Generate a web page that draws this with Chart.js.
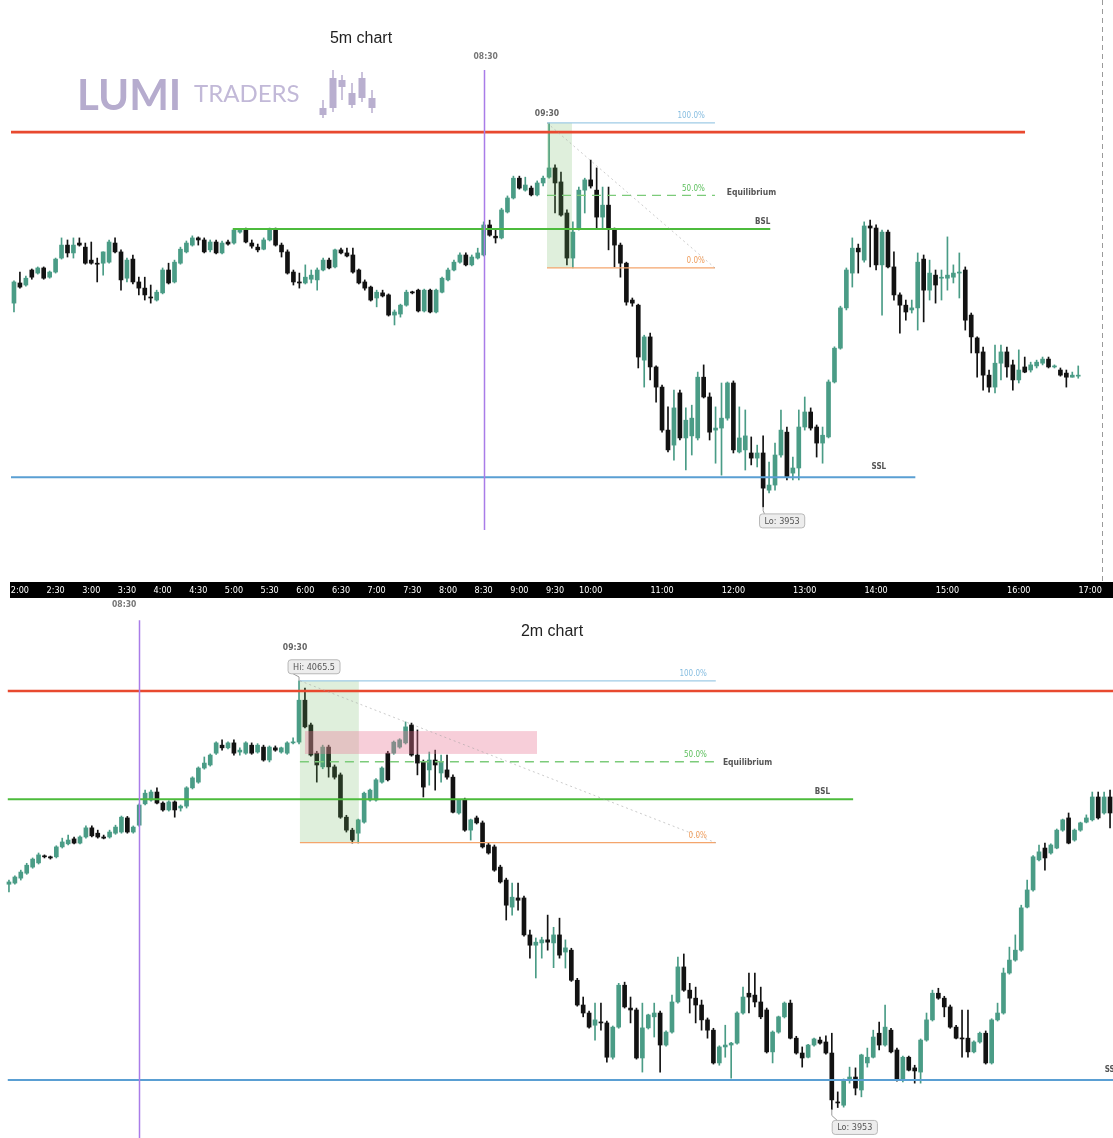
<!DOCTYPE html>
<html><head><meta charset="utf-8">
<script src="https://cdn.jsdelivr.net/npm/chart.js@4.4.1/dist/chart.umd.min.js"></script>
<style>
html,body{margin:0;padding:0;background:#fff;overflow:hidden;width:1113px;height:1138px;position:relative}
#c5{position:absolute;left:0;top:0}
#c2{position:absolute;left:0;top:600px}
</style></head><body>
<canvas id="c5" width="1113" height="600"></canvas>
<canvas id="c2" width="1113" height="538"></canvas>
<script>
// ---------- 5m chart (first bar 1:55) ----------
const top5mOpen = [4012.7,4018.6,4018.0,4022.4,4021.5,4023.0,4020.3,4021.8,4025.9,4029.7,
4027.4,4030.3,4029.1,4025.3,4024.4,4024.4,4024.7,4030.3,4027.7,4020.0,
4025.6,4018.9,4017.1,4014.5,4013.6,4015.7,4022.4,4018.9,4024.4,4027.7,
4029.7,4031.8,4031.2,4028.3,4030.6,4027.4,4030.6,4030.3,4033.5,4034.4,
4030.3,4029.1,4028.5,4031.2,4034.1,4029.7,4027.7,4021.8,4018.9,4018.6,
4019.7,4019.5,4022.4,4025.3,4023.3,4028.3,4027.4,4026.8,4022.4,4018.9,
4017.4,4014.2,4015.7,4015.1,4009.2,4009.5,4012.1,4015.9,4016.5,4010.4,
4016.5,4010.1,4015.9,4019.5,4022.4,4024.7,4026.8,4023.9,4025.9,4026.8,
4035.6,4032.3,4031.8,4039.4,4043.5,4049.3,4045.8,4046.4,4044.4,4047.9,
4049.6,4052.3,4048.2,4039.1,4025.9,4034.7,4045.8,4048.8,4045.8,4037.9,
4041.4,4034.1,4029.7,4024.4,4013.6,4012.1,3996.0,4002.8,3994.0,3988.1,
3975.5,3971.1,3986.4,3973.2,3973.8,3973.2,3991.0,3985.2,3975.5,3976.1,
3979.0,3989.3,3969.1,3969.7,3968.8,3967.3,3968.8,3957.9,3959.4,3968.2,
3974.9,3962.9,3964.4,3976.4,3980.8,3976.4,3971.7,3973.5,3989.6,3999.5,
4011.3,4021.5,4028.8,4025.3,4035.3,4034.7,4023.9,4033.5,4023.3,4015.1,
4012.1,4010.7,4011.3,4025.6,4016.5,4020.9,4020.0,4020.0,4020.3,4021.5,
4022.4,4009.2,4002.5,3998.4,3991.6,3988.1,3995.1,3998.4,3994.6,3990.2,
3994.0,3993.1,3994.3,3995.1,3996.3,3994.0,3993.1,3992.2,3991.0,3991.3];
const top5mHigh = [4019.2,4021.8,4020.6,4022.7,4023.3,4023.3,4022.1,4025.9,4031.8,4031.2,
4031.8,4031.8,4030.3,4030.6,4025.9,4027.7,4031.2,4031.8,4028.3,4025.9,
4026.8,4020.3,4020.3,4018.0,4016.5,4023.0,4024.4,4025.3,4029.1,4030.9,
4032.4,4032.1,4031.8,4031.2,4031.2,4030.9,4031.2,4034.4,4034.4,4034.7,
4031.2,4030.0,4031.8,4034.7,4034.7,4030.3,4028.3,4022.4,4021.5,4023.9,
4022.4,4023.0,4025.9,4025.9,4028.5,4028.8,4028.8,4028.8,4022.7,4019.5,
4017.7,4016.5,4016.5,4015.4,4010.7,4012.4,4016.5,4016.2,4016.8,4016.8,
4016.8,4016.8,4020.3,4023.0,4025.3,4027.4,4027.4,4026.8,4028.8,4036.5,
4037.0,4034.1,4040.5,4044.1,4049.9,4049.9,4049.6,4047.0,4048.5,4049.9,
4065.5,4053.2,4051.1,4040.0,4036.5,4046.7,4049.3,4054.6,4052.3,4046.7,
4046.7,4034.7,4030.3,4024.7,4014.2,4012.4,4003.3,4003.9,3994.3,3988.7,
3982.3,3987.2,3987.2,3982.0,3982.8,3992.5,3994.6,3986.4,3982.3,3989.3,
3989.6,3989.9,3982.3,3981.4,3973.5,3971.1,3973.8,3966.1,3971.7,3981.4,
3976.4,3967.6,3981.4,3985.2,3982.0,3977.0,3976.4,3990.2,3999.9,4011.8,
4023.0,4031.8,4030.0,4036.5,4037.0,4035.6,4034.1,4034.1,4027.7,4015.7,
4013.6,4013.6,4027.4,4026.8,4025.3,4022.4,4022.4,4032.1,4023.9,4027.4,
4023.3,4009.8,4002.8,3999.8,3993.1,4000.4,4000.4,3999.8,3996.0,3999.0,
3996.9,3995.4,3996.0,3996.9,3996.9,3994.6,3993.7,3993.1,3992.5,3994.3];
const top5mLow = [4010.1,4017.1,4017.7,4019.7,4021.2,4019.7,4020.0,4021.5,4025.6,4026.2,
4025.9,4029.4,4024.1,4024.1,4018.9,4020.9,4024.4,4027.4,4016.5,4018.9,
4018.3,4015.1,4013.6,4012.7,4013.3,4015.4,4018.3,4018.6,4024.1,4027.4,
4029.4,4029.7,4027.4,4027.7,4027.1,4027.1,4029.7,4030.0,4033.2,4030.3,
4028.8,4027.7,4028.3,4030.9,4029.4,4026.2,4021.2,4018.0,4017.1,4018.3,
4018.6,4016.5,4022.1,4022.7,4023.0,4027.1,4026.2,4021.5,4018.3,4016.5,
4013.3,4011.6,4014.5,4008.9,4006.3,4008.6,4011.8,4015.4,4010.1,4010.1,
4009.8,4009.8,4015.7,4019.2,4022.1,4024.4,4023.6,4023.6,4025.6,4026.5,
4032.3,4030.3,4031.5,4039.1,4043.2,4046.1,4045.5,4044.1,4044.1,4047.0,
4049.3,4039.1,4038.2,4023.9,4023.0,4034.1,4039.1,4046.4,4034.7,4034.7,
4028.3,4023.3,4020.3,4012.1,4011.8,3993.7,3988.1,3990.2,3983.7,3974.9,
3969.1,3966.7,3972.6,3963.8,3968.2,3972.6,3984.9,3972.6,3965.8,3962.3,
3978.4,3968.8,3968.8,3963.8,3965.3,3964.7,3953.0,3957.1,3957.9,3967.6,
3960.9,3960.9,3960.9,3975.5,3975.5,3967.6,3965.8,3973.2,3989.3,3999.2,
4010.7,4017.4,4021.5,4024.7,4023.3,4022.4,4009.2,4023.0,4013.6,4003.9,
4007.7,4009.8,4004.8,4007.2,4013.6,4012.7,4013.6,4016.5,4018.6,4014.2,
4004.8,3998.1,3991.0,3987.2,3986.6,3986.4,3990.2,3991.0,3987.2,3989.3,
3992.3,3992.5,3993.7,3994.6,3993.7,3993.7,3991.3,3988.1,3991.0,3990.7];
const top5mClose = [4018.9,4017.4,4020.0,4020.3,4023.0,4020.0,4021.8,4025.6,4029.7,4027.4,
4029.7,4029.7,4024.4,4024.4,4024.1,4027.7,4030.6,4027.7,4019.5,4025.3,
4018.9,4017.1,4015.1,4014.2,4015.9,4022.4,4018.6,4024.7,4028.5,4030.3,
4031.8,4031.2,4027.7,4030.6,4027.4,4030.3,4030.0,4034.1,4034.1,4030.6,
4029.4,4028.3,4031.2,4034.1,4029.7,4027.7,4021.5,4018.9,4018.6,4020.3,
4020.9,4022.4,4025.3,4023.0,4028.3,4027.4,4026.5,4021.8,4018.6,4017.1,
4013.6,4015.9,4014.8,4009.2,4010.1,4012.1,4015.9,4015.7,4010.4,4016.5,
4010.1,4016.5,4020.0,4022.4,4024.7,4026.8,4023.9,4026.2,4027.4,4035.6,
4032.6,4031.8,4040.0,4043.5,4049.3,4046.4,4047.3,4044.4,4047.9,4049.3,
4052.3,4047.9,4038.5,4025.9,4033.5,4045.8,4048.8,4047.0,4037.9,4041.4,
4034.7,4029.7,4024.4,4013.0,4012.7,3996.9,4002.8,3994.0,3988.1,3975.5,
3969.7,3982.0,3973.2,3978.4,3979.0,3991.0,3985.2,3974.9,3976.1,3979.0,
3989.3,3969.7,3973.2,3973.8,3967.3,3968.8,3958.5,3959.4,3968.2,3975.5,
3961.7,3964.4,3976.4,3980.8,3976.1,3971.7,3974.0,3989.6,3999.5,4011.3,
4022.4,4028.8,4027.7,4035.3,4034.7,4023.9,4033.5,4023.3,4015.1,4012.1,
4010.1,4011.3,4024.7,4016.5,4021.5,4018.0,4020.3,4020.9,4021.5,4021.8,
4007.7,4002.8,3998.1,3991.6,3988.1,3995.1,3998.4,3994.0,3990.2,3993.1,
3992.5,3994.6,3995.4,3996.3,3994.0,3994.3,3991.6,3991.0,3991.6,3991.6];
const top5mTickLabels = ['2:00','2:30','3:00','3:30','4:00','4:30','5:00','5:30','6:00','6:30','7:00','7:30',
'8:00','8:30','9:00','9:30','10:00','11:00','12:00','13:00','14:00','15:00','16:00','17:00'];

// ---------- 2m chart (first bar 07:46) ----------
const bot2mOpen = [4012.1,4012.4,4013.7,4015.0,4016.6,4017.7,4019.5,4019.3,4019.3,4021.9,
4022.7,4024.0,4022.9,4024.5,4026.9,4025.5,4024.5,4024.5,4025.5,4025.8,
4029.5,4025.8,4027.6,4033.2,4034.2,4036.3,4033.4,4031.6,4033.7,4032.1,
4032.6,4037.4,4038.9,4042.6,4043.4,4046.5,4048.6,4047.9,4049.2,4046.8,
4046.5,4048.6,4046.8,4048.1,4044.7,4047.9,4046.8,4046.5,4049.2,4049.4,
4060.4,4053.9,4046.5,4042.9,4048.1,4042.9,4040.8,4029.7,4026.3,4025.5,
4028.4,4034.2,4034.2,4038.9,4046.5,4046.5,4048.1,4049.2,4053.9,4046.0,
4044.2,4042.1,4044.7,4041.3,4042.1,4040.2,4030.8,4034.2,4026.3,4029.5,
4028.2,4022.4,4021.9,4016.6,4013.2,4006.1,4008.5,4008.5,3998.8,3996.1,
3996.7,3997.5,3996.7,3998.8,3994.3,3994.8,3986.9,3980.4,3978.3,3975.1,
3975.9,3975.7,3966.7,3974.6,3985.6,3979.6,3979.1,3966.5,3974.4,3977.3,
3978.3,3969.9,3973.3,3981.2,3990.4,3984.3,3982.2,3980.4,3976.5,3973.8,
3965.2,3969.4,3969.9,3970.4,3978.3,3983.5,3983.0,3981.2,3979.1,3968.1,
3973.3,3977.3,3980.9,3971.7,3967.8,3966.7,3969.9,3971.2,3970.7,3967.8,
3954.9,3954.1,3960.7,3961.5,3958.1,3965.2,3966.7,3973.0,3969.9,3973.8,
3968.6,3960.7,3966.7,3963.9,3962.8,3971.2,3976.5,3983.5,3982.2,3979.9,
3974.6,3971.7,3971.7,3968.1,3970.7,3973.0,3965.2,3976.5,3978.3,3988.8,
3992.2,3994.8,4006.1,4010.6,4018.5,4021.6,4020.3,4021.6,4026.3,4029.5,
4023.7,4026.3,4028.4,4029.0,4035.0,4030.8,4035.0];
const bot2mHigh = [4013.2,4014.3,4015.8,4017.6,4019.0,4020.3,4019.8,4019.5,4022.2,4024.2,
4025.0,4024.5,4024.8,4027.4,4027.4,4026.3,4025.0,4026.3,4027.6,4030.0,
4029.9,4027.4,4033.2,4036.8,4036.8,4037.4,4033.7,4034.0,4034.0,4032.9,
4037.7,4040.3,4042.9,4045.5,4046.3,4049.5,4050.0,4049.5,4050.0,4047.9,
4049.5,4049.2,4049.0,4048.6,4048.4,4048.4,4048.1,4049.5,4050.5,4065.5,
4063.6,4054.4,4047.0,4048.6,4048.6,4043.4,4041.3,4030.2,4026.8,4029.2,
4036.3,4037.1,4039.8,4042.9,4047.0,4049.7,4050.3,4054.7,4054.4,4052.6,
4044.7,4046.8,4047.3,4046.0,4046.0,4040.8,4034.4,4034.7,4029.2,4030.0,
4028.7,4022.9,4022.4,4017.1,4013.7,4012.4,4012.4,4009.0,4000.1,3998.0,
3998.2,4004.0,4000.8,4003.2,3997.5,3995.3,3987.4,3982.5,3978.8,3980.9,
3980.9,3976.2,3974.9,3986.1,3986.4,3982.5,3979.6,3980.9,3978.0,3980.9,
3978.8,3973.6,3983.0,3993.0,3993.8,3986.1,3985.1,3981.7,3977.0,3974.3,
3969.7,3975.1,3970.6,3978.6,3985.1,3988.8,3988.8,3985.1,3979.6,3973.6,
3977.5,3981.2,3981.7,3972.2,3969.4,3970.1,3971.7,3972.0,3972.3,3973.0,
3957.6,3961.0,3964.1,3963.9,3967.5,3969.1,3973.8,3975.9,3980.4,3974.3,
3969.1,3967.0,3967.0,3964.6,3971.5,3978.3,3984.3,3984.8,3982.7,3980.4,
3975.1,3979.1,3979.1,3971.0,3973.3,3973.6,3976.8,3980.9,3990.1,3995.6,
3998.8,4006.6,4013.2,4019.6,4022.4,4022.9,4022.7,4026.6,4029.2,4030.8,
4026.6,4028.4,4030.3,4036.3,4036.3,4036.3,4036.8];
const bot2mLow = [4010.1,4012.1,4013.2,4014.7,4016.3,4017.4,4019.0,4018.7,4019.0,4021.6,
4022.4,4022.7,4022.7,4024.2,4024.5,4024.2,4024.0,4024.2,4025.2,4025.5,
4025.5,4025.5,4027.3,4032.9,4033.9,4033.2,4031.3,4031.3,4029.7,4031.3,
4032.1,4037.1,4038.6,4042.3,4043.1,4046.2,4047.3,4047.6,4046.0,4046.0,
4046.2,4046.2,4046.5,4044.4,4044.2,4047.0,4046.5,4046.2,4048.9,4048.9,
4053.1,4045.7,4038.9,4042.4,4040.2,4039.7,4029.4,4025.8,4022.9,4022.9,
4028.1,4033.9,4033.9,4038.6,4039.2,4046.2,4047.8,4048.9,4045.7,4040.8,
4035.0,4038.1,4036.8,4038.9,4039.7,4030.8,4030.5,4026.0,4023.7,4027.9,
4021.6,4020.0,4015.5,4012.4,4002.7,4004.0,4005.3,3998.5,3992.7,3987.5,
3992.7,3994.8,3990.2,3992.7,3990.1,3986.6,3980.1,3977.3,3974.3,3971.2,
3973.8,3965.4,3966.2,3974.3,3979.6,3975.7,3966.2,3962.8,3974.1,3972.0,
3962.8,3969.6,3973.0,3980.9,3984.0,3978.3,3975.7,3973.8,3971.7,3964.9,
3964.6,3966.7,3961.2,3970.1,3978.0,3978.3,3979.9,3976.8,3967.8,3965.2,
3973.0,3977.0,3971.5,3967.5,3964.1,3966.5,3969.6,3970.1,3967.5,3953.0,
3953.5,3953.6,3959.9,3956.8,3956.3,3964.1,3966.5,3968.6,3969.6,3967.8,
3960.4,3960.2,3963.1,3959.9,3959.9,3970.9,3976.2,3981.9,3977.3,3974.3,
3971.5,3966.7,3966.7,3967.8,3970.4,3964.9,3964.9,3976.2,3978.0,3988.5,
3991.9,3994.5,4005.9,4010.3,4018.2,4015.8,4020.0,4021.4,4026.0,4022.7,
4023.4,4026.0,4028.2,4028.7,4029.2,4030.5,4026.9];
const bot2mClose = [4012.7,4014.0,4015.3,4017.1,4018.7,4019.8,4019.3,4019.0,4021.9,4023.2,
4023.7,4022.9,4024.5,4026.9,4024.8,4024.5,4024.2,4025.8,4027.1,4029.7,
4025.8,4027.1,4032.9,4036.0,4036.3,4033.4,4031.6,4033.7,4031.6,4032.6,
4037.4,4040.0,4042.6,4043.9,4046.0,4049.2,4047.9,4049.2,4046.5,4047.3,
4049.2,4046.5,4048.6,4044.7,4048.1,4047.3,4047.9,4049.2,4049.4,4060.4,
4053.4,4046.0,4043.4,4048.1,4042.9,4040.2,4029.7,4026.3,4023.7,4029.0,
4036.0,4036.8,4039.5,4042.6,4039.5,4049.4,4050.0,4053.4,4046.0,4043.9,
4037.6,4044.7,4043.4,4044.2,4040.2,4031.0,4034.2,4026.3,4029.0,4028.2,
4021.9,4020.3,4015.8,4012.7,4006.6,4008.7,4007.9,3998.8,3996.1,3996.9,
3997.5,3996.9,3998.8,3993.5,3995.4,3986.9,3980.4,3978.3,3974.6,3976.5,
3975.7,3966.7,3974.6,3985.6,3979.9,3979.1,3966.5,3974.4,3977.8,3978.3,
3969.9,3973.3,3981.2,3990.4,3984.3,3982.2,3980.4,3976.5,3973.8,3965.2,
3969.4,3969.9,3970.4,3978.3,3982.5,3982.5,3981.2,3977.3,3968.1,3973.3,
3977.3,3980.9,3971.7,3967.8,3966.5,3969.9,3971.5,3970.4,3967.8,3955.5,
3954.7,3960.7,3961.5,3958.6,3967.3,3966.7,3972.0,3969.9,3974.6,3968.1,
3960.7,3966.7,3963.3,3963.1,3971.2,3976.5,3983.5,3982.2,3979.9,3974.6,
3971.7,3971.5,3968.1,3970.7,3973.0,3965.2,3976.5,3978.3,3988.8,3992.2,
3994.8,4005.9,4010.6,4019.3,4020.6,4019.0,4022.4,4026.3,4029.0,4022.9,
4026.3,4028.2,4029.5,4035.0,4029.5,4035.0,4030.8];

// ---------- key price levels ----------
const levelHigh = 4065.5, levelLow = 3953.0;
const levelRed = 4062.8, levelBSL = 4034.4, levelSSL5 = 3961.7, levelSSL2 = 3960.7;
const fibTop = 4065.5, fibBottom = 4023.0, fibMid = (fibTop + fibBottom) / 2;
const fvgTop = 4052.3, fvgBottom = 4046.3;

// ---------- helpers ----------
function timeLabels(startMin, step, n, pad) {
  const out = [];
  for (let k = 0; k < n; k++) {
    const t = startMin + k * step, h = Math.floor(t / 60), m = t % 60;
    out.push((pad ? String(h).padStart(2, '0') : h) + ':' + String(m).padStart(2, '0'));
  }
  return out;
}
const topTimes = timeLabels(115, 5, 184, false);      // 1:55 .. 17:10
const botTimes = timeLabels(466, 2, 187, true);       // 07:46 ..
const UP = '#4a9c86', DN = '#121212';

function candleSets(o, h, l, c, bodyW) {
  const cols = c.map((v, i) => v >= o[i] ? UP : DN);
  return [
    { type: 'bar', data: l.map((v, i) => [v, h[i]]), backgroundColor: cols, barThickness: 1, grouped: false, order: 2 },
    { type: 'bar', data: o.map((v, i) => [v, c[i]]), backgroundColor: cols, barThickness: bodyW, grouped: false, minBarLength: 1, order: 1 }
  ];
}

const LBL = "'DejaVu Sans Condensed','DejaVu Sans',sans-serif";

function makeOverlay(items, extra) {
  return {
    id: 'overlay',
    afterDatasetsDraw(chart) {
      const { ctx, chartArea: ca, scales: { x: xs, y: ys } } = chart;
      const p0 = xs.getPixelForValue(0), step = xs.getPixelForValue(1) - p0;
      const X = v => v === 'L' ? ca.left : v === 'R' ? ca.right : p0 + v * step;
      const Y = v => v === 'T' ? ca.top : v === 'B' ? ca.bottom : ys.getPixelForValue(v);
      ctx.save();
      for (const it of items) {
        ctx.setLineDash(it.dash || []);
        if (it.t === 'box') {
          ctx.fillStyle = it.fill;
          const x0 = X(it.x0), x1 = X(it.x1), y0 = Y(it.y0), y1 = Y(it.y1);
          ctx.fillRect(x0, y0, x1 - x0, y1 - y0);
        } else if (it.t === 'hline') {
          ctx.strokeStyle = it.color; ctx.lineWidth = it.w;
          ctx.beginPath(); ctx.moveTo(X(it.x0), Y(it.y)); ctx.lineTo(X(it.x1), Y(it.y)); ctx.stroke();
        } else if (it.t === 'vline') {
          ctx.strokeStyle = it.color; ctx.lineWidth = it.w;
          const x = Math.round(X(it.x)) + 0.5;
          ctx.beginPath(); ctx.moveTo(x, Y(it.y0)); ctx.lineTo(x, Y(it.y1)); ctx.stroke();
        } else if (it.t === 'seg') {
          ctx.strokeStyle = it.color; ctx.lineWidth = it.w;
          ctx.beginPath(); ctx.moveTo(X(it.x0), Y(it.y0)); ctx.lineTo(X(it.x1), Y(it.y1)); ctx.stroke();
        } else if (it.t === 'text') {
          ctx.font = it.font; ctx.fillStyle = it.color;
          ctx.textAlign = it.align || 'left'; ctx.textBaseline = 'middle';
          ctx.fillText(it.text, X(it.x) + (it.dx || 0), Y(it.y) + (it.dy || 0));
        } else if (it.t === 'tag') {
          const ax = X(it.x), ay = Y(it.y);
          const bx = ax + it.dx, by = ay + it.dy;
          ctx.font = '9px ' + LBL;
          const w = ctx.measureText(it.text).width + 10, h = 14;
          const edgeY = it.dy > 0 ? by - h / 2 : by + h / 2;
          ctx.strokeStyle = '#9a9a9a'; ctx.lineWidth = 1;
          ctx.beginPath(); ctx.moveTo(ax, ay); ctx.lineTo(ax, ay + (edgeY - ay) * 0.55);
          ctx.lineTo(bx - w / 2 + 5, edgeY); ctx.stroke();
          ctx.fillStyle = '#ededed'; ctx.strokeStyle = '#b8b8b8';
          ctx.beginPath(); ctx.roundRect(bx - w / 2, by - h / 2, w, h, 3); ctx.fill(); ctx.stroke();
          ctx.fillStyle = '#555'; ctx.textAlign = 'center'; ctx.textBaseline = 'middle';
          ctx.fillText(it.text, bx, by + 0.5);
        }
      }
      ctx.restore();
    },
    afterDraw(chart) { if (extra) extra(chart.ctx, chart); }
  };
}

function fibItems(xs, xe, xlab, xeq, eqDy) {
  return [
    { t: 'hline', y: fibTop, x0: xs, x1: xe, color: '#9fcbe6', w: 1.3 },
    { t: 'hline', y: fibMid, x0: xs, x1: xe, color: '#7ccb7a', w: 1.3, dash: [9, 6] },
    { t: 'hline', y: fibBottom, x0: xs, x1: xe, color: '#f4a56c', w: 1.3 },
    { t: 'seg', x0: xs, y0: fibTop, x1: xe, y1: fibBottom, color: 'rgba(160,160,160,0.55)', w: 1, dash: [2, 3] },
    { t: 'text', x: xlab, y: fibTop, dy: -7, text: '100.0%', align: 'right', font: '8px ' + LBL, color: '#86bde0' },
    { t: 'text', x: xlab, y: fibMid, dy: -7, text: '50.0%', align: 'right', font: '8px ' + LBL, color: '#5cbf5c' },
    { t: 'text', x: xlab, y: fibBottom, dy: -7, text: '0.0%', align: 'right', font: '8px ' + LBL, color: '#ef9d5c' },
    { t: 'text', x: xeq, y: fibMid, dy: eqDy, text: 'Equilibrium', align: 'left', font: 'bold 8.5px ' + LBL, color: '#555' }
  ];
}

// ---------- top chart overlay ----------
const topItems = [
  { t: 'box', x0: 89.65, x1: 93.85, y0: fibTop, y1: fibBottom, fill: 'rgba(110,180,95,0.22)' },
  { t: 'hline', y: levelRed, x0: 'L', x1: 170.05, color: '#e8492f', w: 2.6 },
  { t: 'hline', y: levelBSL, x0: 36.8, x1: 127.2, color: '#4cbb3c', w: 2 },
  { t: 'hline', y: levelSSL5, x0: 'L', x1: 151.6, color: '#5a9fd3', w: 2 },
  { t: 'vline', x: 79, y0: 4081.0, y1: 3946.2, color: '#a97ce8', w: 1.5 },
  { t: 'vline', x: 183, y0: 'T', y1: 'B', color: '#9a9a9a', w: 1, dash: [5, 4] },
  ...fibItems(89.65, 117.9, 116.2, 119.9, -3),
  { t: 'text', x: 127.2, y: levelBSL, dy: -7, text: 'BSL', align: 'right', font: 'bold 8px ' + LBL, color: '#555' },
  { t: 'text', x: 146.7, y: levelSSL5, dy: -10, text: 'SSL', align: 'right', font: 'bold 8px ' + LBL, color: '#555' },
  { t: 'text', x: 89.65, y: fibTop, dy: -9, text: '09:30', align: 'center', font: 'bold 8.5px ' + LBL, color: '#666' },
  { t: 'text', x: 79, y: 'T', dx: 2, dy: 57, text: '08:30', align: 'center', font: 'bold 8.5px ' + LBL, color: '#777' },
  { t: 'tag', x: 126, y: levelLow, dx: 19, dy: 14, text: 'Lo: 3953' }
];

function drawTopExtras(ctx) {
  ctx.save();
  ctx.fillStyle = '#222'; ctx.font = "16px 'Liberation Sans', Arial, sans-serif";
  ctx.textAlign = 'center'; ctx.textBaseline = 'middle';
  ctx.fillText('5m chart', 361, 39);
  // logo
  ctx.fillStyle = '#b6acce'; ctx.textAlign = 'left'; ctx.textBaseline = 'alphabetic';
  ctx.font = "bold 42px Lato, 'Open Sans', sans-serif";
  ctx.fillText('LUMI', 77, 110);
  ctx.fillStyle = '#c2b9d8'; ctx.font = "24px Lato, 'Open Sans', sans-serif";
  ctx.fillText('TRADERS', 194, 102);
  const icon = [[323, 108, 115, 100, 118], [333, 78, 108, 70, 112], [342, 80, 87, 75, 100],
                [352, 93, 105, 83, 108], [362, 78, 98, 72, 102], [372, 98, 108, 90, 113]];
  ctx.fillStyle = '#b9afcf';
  for (const [x, b0, b1, w0, w1] of icon) {
    ctx.fillRect(x - 0.75, w0, 1.5, w1 - w0);
    ctx.fillRect(x - 3.5, b0, 7, b1 - b0);
  }
  ctx.restore();
}

const axisBand = {
  id: 'axisBand',
  beforeDraw(chart) {
    const xs = chart.scales.x, ctx = chart.ctx;
    ctx.save(); ctx.fillStyle = '#000';
    ctx.fillRect(10, xs.top, chart.width - 10, xs.height);
    ctx.restore();
  }
};

const tickSet = new Set(top5mTickLabels);
new Chart(document.getElementById('c5'), {
  type: 'bar',
  data: { labels: topTimes, datasets: candleSets(top5mOpen, top5mHigh, top5mLow, top5mClose, 4) },
  options: {
    responsive: false, animation: false, devicePixelRatio: 1,
    layout: { autoPadding: false, padding: { left: 11, right: 8, top: 0, bottom: 2 } },
    plugins: { legend: { display: false }, tooltip: { enabled: false } },
    scales: {
      x: {
        grid: { display: false, drawTicks: false }, border: { display: false },
        ticks: { autoSkip: false, maxRotation: 0, minRotation: 0, color: '#fff', padding: 3,
                 font: { size: 9, family: "'DejaVu Sans Condensed','Liberation Sans Narrow',sans-serif" },
                 callback: (v) => tickSet.has(topTimes[v]) ? topTimes[v] : '' },
        afterFit: (s) => { s.height = 16; }
      },
      y: { display: false, min: 3931.0, max: 4101.5 }
    }
  },
  plugins: [axisBand, makeOverlay(topItems, drawTopExtras)]
});

// ---------- bottom chart overlay ----------
const botItems = [
  { t: 'box', x0: 49.15, x1: 59.1, y0: fibTop, y1: fibBottom, fill: 'rgba(110,180,95,0.22)' },
  { t: 'box', x0: 50, x1: 89.2, y0: fvgTop, y1: fvgBottom, fill: 'rgba(232,120,150,0.36)' },
  { t: 'hline', y: levelRed, x0: -0.2, x1: 'R', color: '#e8492f', w: 2.6 },
  { t: 'hline', y: levelBSL, x0: -0.2, x1: 142.6, color: '#4cbb3c', w: 2 },
  { t: 'hline', y: levelSSL2, x0: -0.2, x1: 'R', color: '#5a9fd3', w: 2 },
  { t: 'vline', x: 22, y0: 4081.4, y1: 'B', color: '#a97ce8', w: 1.5 },
  ...fibItems(49.15, 119.4, 117.9, 120.6, 1),
  { t: 'text', x: 138.7, y: levelBSL, dy: -7, text: 'BSL', align: 'right', font: 'bold 8px ' + LBL, color: '#555' },
  { t: 'text', x: 185.1, y: levelSSL2, dy: -10, text: 'SSL', align: 'left', font: 'bold 8px ' + LBL, color: '#555' },
  { t: 'text', x: 49, y: fibTop, dx: -4, dy: -33, text: '09:30', align: 'center', font: 'bold 8.5px ' + LBL, color: '#666' },
  { t: 'text', x: 22, y: 'T', dx: -15, dy: 5, text: '08:30', align: 'center', font: 'bold 8.5px ' + LBL, color: '#777' },
  { t: 'tag', x: 49, y: levelHigh, dx: 15, dy: -14, text: 'Hi: 4065.5' },
  { t: 'tag', x: 139, y: levelLow, dx: 23, dy: 18, text: 'Lo: 3953' }
];

function drawBotExtras(ctx) {
  ctx.save();
  ctx.fillStyle = '#222'; ctx.font = "16px 'Liberation Sans', Arial, sans-serif";
  ctx.textAlign = 'center'; ctx.textBaseline = 'middle';
  ctx.fillText('2m chart', 552, 32);
  ctx.restore();
}

new Chart(document.getElementById('c2'), {
  type: 'bar',
  data: { labels: botTimes, datasets: candleSets(bot2mOpen, bot2mHigh, bot2mLow, bot2mClose, 4) },
  options: {
    responsive: false, animation: false, devicePixelRatio: 1,
    layout: { autoPadding: false, padding: { left: 6, right: 0, top: 0, bottom: 0 } },
    plugins: { legend: { display: false }, tooltip: { enabled: false } },
    scales: {
      x: { display: false },
      y: { display: false, min: 3945.5, max: 4086.7 }
    }
  },
  plugins: [makeOverlay(botItems, drawBotExtras)]
});
</script>
</body></html>
